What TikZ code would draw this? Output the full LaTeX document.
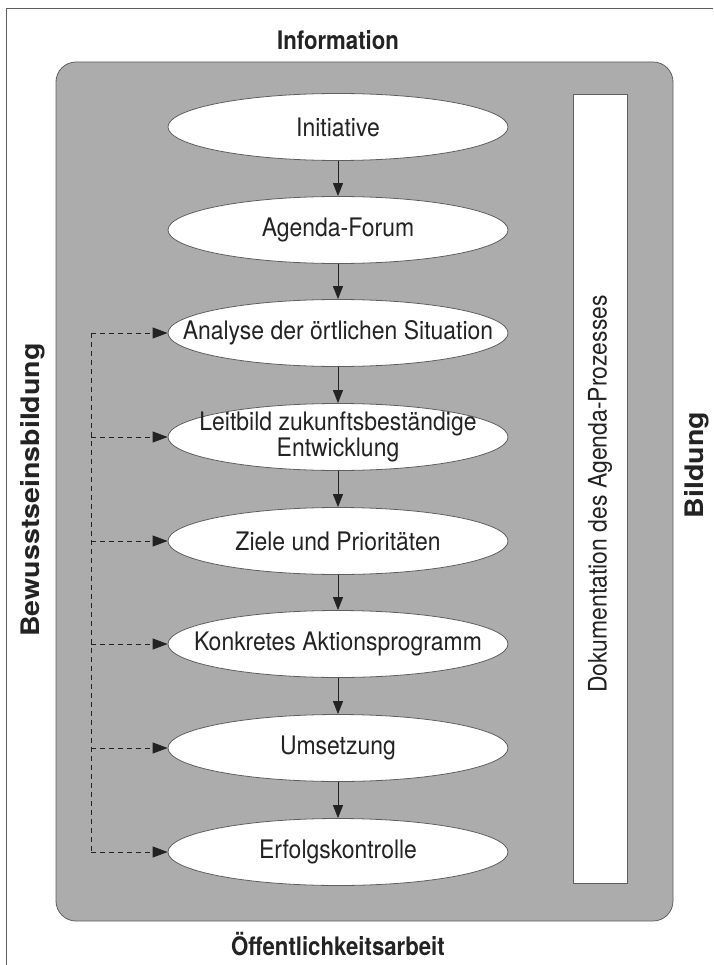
\documentclass[tikz,border=0pt]{standalone}
\usepackage{fontspec}
\setmainfont{TeX Gyre Heros}
\newfontfamily\stagefont{TeX Gyre Heros}[FakeStretch=0.9]
\newfontfamily\labelfont{TeX Gyre Heros}[FakeStretch=0.87]
\newfontfamily\sidefont{TeX Gyre Heros}[FakeStretch=1.12]
\usetikzlibrary{shapes.geometric,arrows.meta}
\definecolor{boxgray}{RGB}{172,172,172}
\definecolor{linegray}{RGB}{95,95,95}
\definecolor{textdark}{RGB}{35,35,35}
\begin{document}
\begin{tikzpicture}[x=1pt,y=-1pt,
  stage/.style={ellipse, draw=linegray, line width=0.8pt, fill=white,
    minimum width=340pt, minimum height=67pt, inner sep=0pt},
  stagetext/.style={font=\stagefont\fontsize{25.5}{24}\selectfont, text=textdark,
    align=center, inner sep=0pt},
  toplabel/.style={font=\labelfont\bfseries\fontsize{25.5}{27}\selectfont,
    text=textdark, inner sep=0pt},
  vertlabel/.style={font=\sidefont\bfseries\fontsize{25.5}{27}\selectfont,
    text=textdark, inner sep=0pt, rotate=90},
  flow/.style={draw=textdark, line width=0.9pt, -{Triangle[length=13pt,width=10pt]}},
  feedback/.style={draw=textdark, line width=0.9pt, dash pattern=on 5pt off 4pt},
  feedarrow/.style={feedback, -{Triangle[length=15pt,width=11pt]}}
]
\useasboundingbox (0,0) rectangle (713,965);
% outer frame
\coordinate (frameBL) at (6,965);
\coordinate (frameTL) at (6,9);
\coordinate (frameTR) at (713,9);
\draw[linegray, line width=1pt] (frameBL) -- (frameTL) -- (frameTR);
% gray panel
\node[draw=linegray, fill=boxgray, line width=0.8pt, rounded corners=20pt,
  minimum width=617pt, minimum height=859pt, inner sep=0pt] (panel) at (364.5,491.5) {};
% documentation bar
\node[draw=linegray, fill=white, line width=0.8pt,
  minimum width=54pt, minimum height=789pt, inner sep=0pt] (doc) at (600,488.5) {};
\node[stagetext, rotate=90] (doctext) at (600,494) {Dokumentation des Agenda-Prozesses};
% stages
\foreach \i/\y in {1/127,2/230,3/333,4/437,5/541,6/644,7/748,8/852}{
  \node[stage] (n\i) at (338,\y) {};
}
\node[stagetext] (t1) at (n1) {Initiative};
\node[stagetext] (t2) at (n2) {Agenda-Forum};
\node[stagetext] (t3) at (n3) {Analyse der örtlichen Situation};
\node[stagetext] (t4) at (n4) {Leitbild zukunftsbeständige\\Entwicklung};
\node[stagetext] (t5) at (n5) {Ziele und Prioritäten};
\node[stagetext] (t6) at (n6) {Konkretes Aktionsprogramm};
\node[stagetext] (t7) at (n7) {Umsetzung};
\node[stagetext] (t8) at (n8) {Erfolgskontrolle};
% flow arrows
\foreach \a/\b in {1/2,2/3,3/4,4/5,5/6,6/7,7/8}{
  \draw[flow] (n\a) -- (n\b);
}
% feedback loop
\coordinate (fb) at (91,0);
\draw[feedback] (n3.west -| fb) -- (n8.west -| fb);
\foreach \i in {3,4,5,6,7,8}{
  \draw[feedarrow] (n\i.west -| fb) -- (n\i.west);
}
% side labels
\node[toplabel] (info) at (338,40) {Information};
\node[toplabel] (oeff) at (338,944) {Öffentlichkeitsarbeit};
\node[vertlabel] (bewusst) at (33,490) {Bewusstseinsbildung};
\node[vertlabel] (bildung) at (697,465) {Bildung};
\end{tikzpicture}
\end{document}
